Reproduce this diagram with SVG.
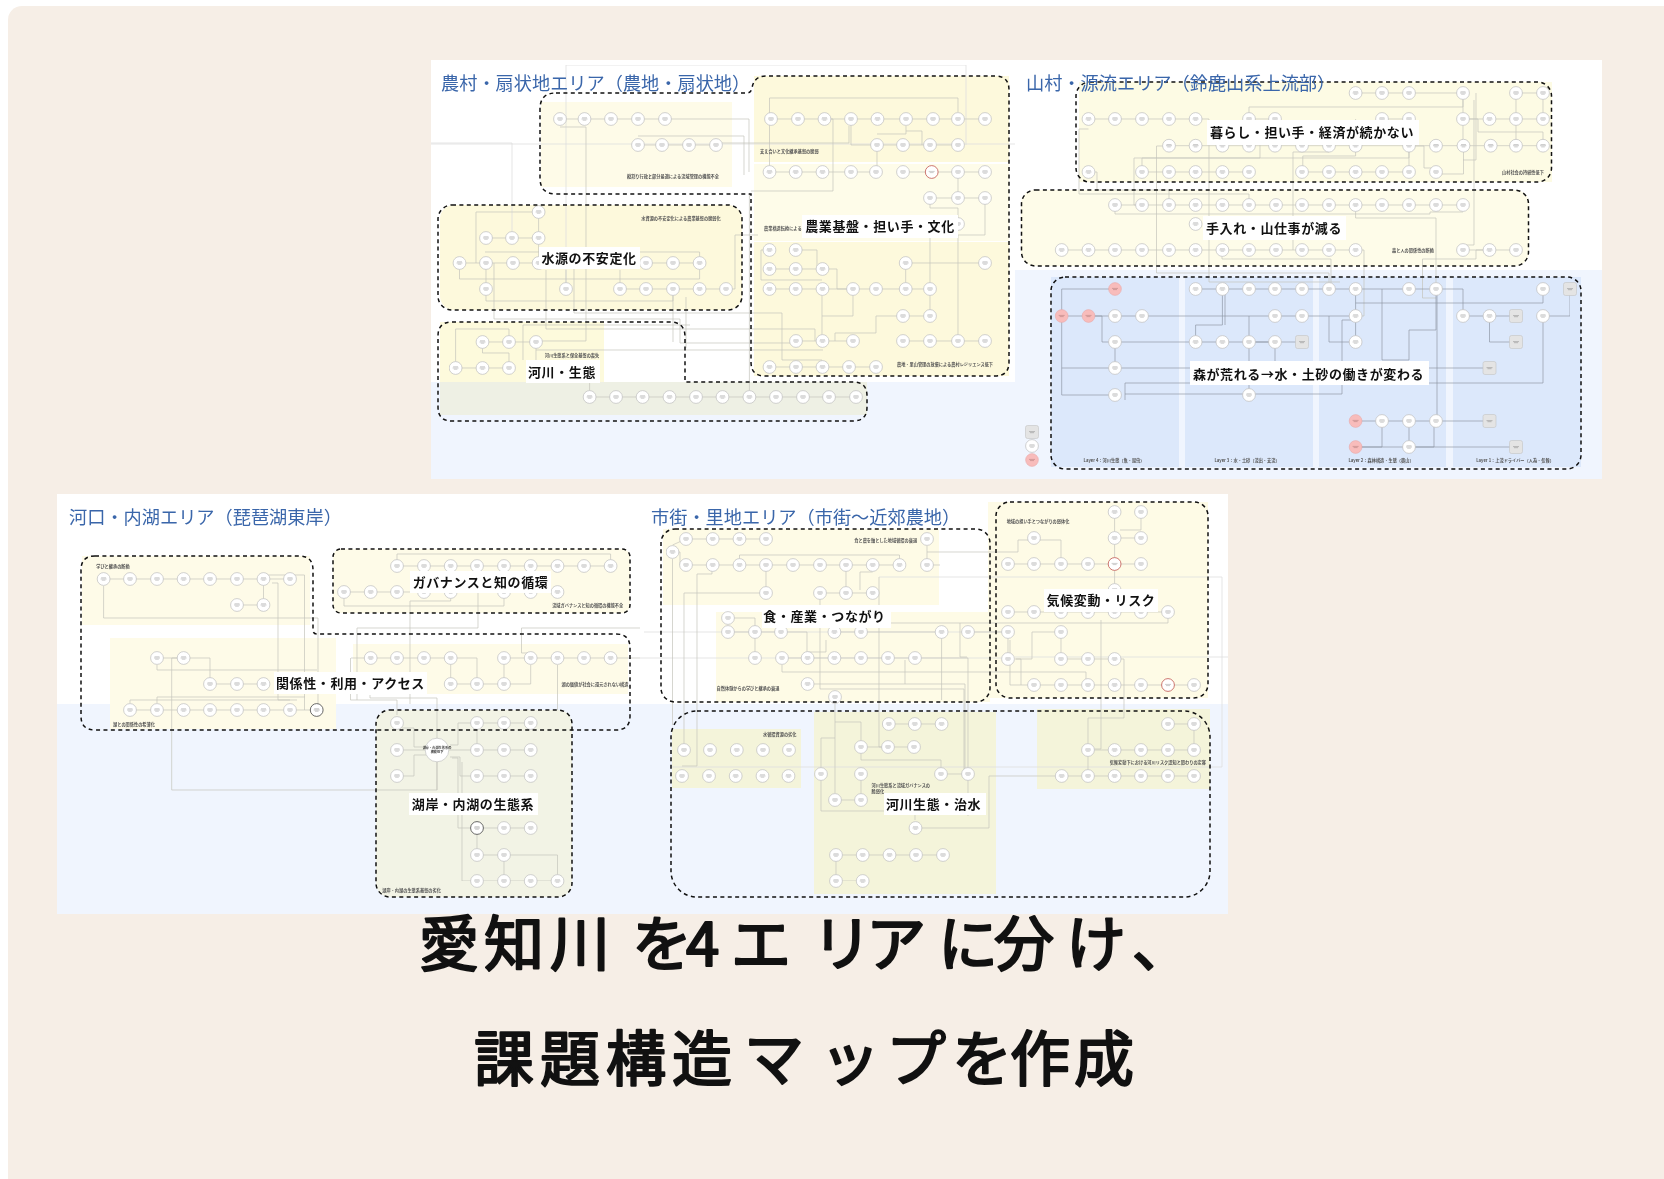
<svg xmlns="http://www.w3.org/2000/svg" width="1664" height="1179" viewBox="0 0 1664 1179">
<style>
text{font-family:"Noto Sans CJK JP","Noto Sans CJK SC",sans-serif}
.t{font-size:18.2px;fill:#3a66aa}
.s{font-size:4.2px;font-weight:700;fill:#555}
.b{font-size:13px;font-weight:700;letter-spacing:.6px;text-anchor:middle;fill:#111}
.h{font-size:60px;fill:#111;stroke:#111;stroke-width:2.2px;stroke-linejoin:round}
.d{fill:none;stroke:#111;stroke-width:1.5;stroke-dasharray:4 3.4}
.l{fill:none;stroke:#c4c4bc;stroke-width:.7}
.m{fill:none;stroke:#8f98a6;stroke-width:.7}
.o{fill:none;stroke:#dedede;stroke-width:.8}
.w{fill:#fff}
</style>
<defs>
<filter id="soft" x="0" y="0" width="100%" height="100%"><feGaussianBlur stdDeviation=".35"/></filter>
<g id="c"><circle r="6.4" fill="#fff" stroke="#bdbdbd" stroke-width=".7"/><path d="M-2.5-1.2H2.5M-3 0H3M-1.8 1.2H1.8" stroke="#9c9c9c" stroke-width=".5"/></g>
<g id="r"><circle r="6.4" fill="#fff" stroke="#c0544c" stroke-width=".8"/><path d="M-3-.6H3M-2 .6H2" stroke="#9c9c9c" stroke-width=".5"/></g>
<g id="k"><circle r="6.4" fill="#fff" stroke="#444" stroke-width=".8"/><path d="M-2.5-1.2H2.5M-3 0H3M-1.8 1.2H1.8" stroke="#888" stroke-width=".5"/></g>
<g id="p"><circle r="6.4" fill="#f8bcbb" stroke="#e5a5a5" stroke-width=".5"/><path d="M-3-.6H3M-2 .6H2" stroke="#a77" stroke-width=".5"/></g>
<g id="g"><rect x="-6.5" y="-6.5" width="13" height="13" rx="2" fill="#e4e4e4" stroke="#c4c4c4" stroke-width=".6"/><path d="M-3-.4H3M-2 .7H2" stroke="#888" stroke-width=".5"/></g>
</defs>
<rect width="1664" height="1179" fill="#fff"/>
<rect x="8" y="6" width="1720" height="1240" rx="14" fill="#f6eee6"/>

<g id="panels">
<rect x="431" y="60" width="1171" height="419" fill="#f0f5fe"/>
<rect x="431" y="60" width="584" height="322" fill="#fff"/>
<rect x="1015" y="60" width="587" height="210" fill="#fff"/>
<rect x="541" y="102" width="191" height="85" fill="#fefbe8"/>
<rect x="754" y="76" width="255" height="86" fill="#fdf9dc"/>
<rect x="754" y="164" width="255" height="77" fill="#fefce9"/>
<rect x="754" y="242" width="255" height="134" fill="#fdf9dc"/>
<rect x="440" y="205" width="302" height="105" rx="14" fill="#fdf9dc"/>
<rect x="440" y="322" width="164" height="60" fill="#fdfadc"/>
<rect x="440" y="382" width="427" height="33" fill="#eef0e4"/>
<rect x="1079" y="82" width="473" height="100" fill="#fdfbe4"/>
<rect x="1021" y="190" width="508" height="76" rx="14" fill="#fefce9"/>
<rect x="1051" y="277" width="128" height="190" fill="#dce8fb"/>
<rect x="1185" y="277" width="128" height="190" fill="#dce8fb"/>
<rect x="1319" y="277" width="127" height="190" fill="#dce8fb"/>
<rect x="1453" y="277" width="128" height="190" fill="#dce8fb"/>
<rect x="57" y="494" width="1171" height="420" fill="#f0f5fe"/>
<rect x="57" y="494" width="1171" height="210" fill="#fff"/>
<rect x="82" y="556" width="228" height="69" fill="#fefbe8"/>
<rect x="110" y="638" width="226" height="91" fill="#fefbe8"/>
<rect x="353" y="644" width="275" height="50" fill="#fefbe8"/>
<rect x="333" y="549" width="297" height="64" rx="8" fill="#fefbe8"/>
<rect x="376" y="710" width="196" height="187" rx="14" fill="#f2f3e5"/>
<rect x="663" y="529" width="276" height="76" fill="#fefbe6"/>
<rect x="716" y="612" width="274" height="90" fill="#fefbe6"/>
<rect x="988" y="502" width="220" height="196" fill="#fefbe6"/>
<rect x="672" y="729" width="129" height="59" fill="#f4f4da"/>
<rect x="814" y="712" width="182" height="182" fill="#f4f4da"/>
<rect x="1037" y="709" width="173" height="80" fill="#f4f4da"/>
</g>

<g id="connectors" filter="url(#soft)">
<path class="o" d="M566 65H966V145M566 65V289M431 143H512V238M431 144H1015M640 658H1008M672 767H1222V577H879M1015 657H1228M644 632H1008"/>
<path class="l" d="M560 119H665H749V172M638 145H716M716 143H849V126M638 136H744V175M560 127H586V341H536"/>
<path class="l" d="M771 119H985M851 119V145H958M877 134H906V126M877 145V172M769.5 98H958V112M769.5 98V172M824 119H833V191H751M770 172H876M903 172H985M958 172V198M930 198H985M906 131H922V145M930 198V208H958V224M985 198V235H930V289M958 235V341"/>
<path class="l" d="M769.5 250H761V280H822M796 250H817V269M769.5 269H822H837V289H853M770 289H930M822 289V341M853 289V316H822M905.7 263H985M905.7 263V289M903 316H930M903 316H876V333H835V341M930 289V316M796 341H853M903 341H985M770 367H876"/>
<path class="l" d="M726 289H735V235H758M574 263V313H782V360H822V367M494 263V319H680V343H796M546 270V329H815V341M536 350H823M523 360V325H690M749.4 397V194"/>
<path class="l" d="M459.5 263H699.6M538.6 212V263M486 238H538.6M476 212H538.6M476 212V263M486 263V289M459.5 263V279H699.6V263M486 289V301H673V289M620 289H726M620 289V270M566 289V270M485 252H699.6V263M673 289V342M686 297V348"/>
<path class="l" d="M455.6 368H509M455.6 368V329H509V342M482.5 342H536M482.5 342V353H509V368M536 342V368M589.6 397H856M589.6 397V383"/>
<path class="l" d="M1088.5 119H1195.6M1249 119H1275M1382 119H1409M1463 119H1543M1355.6 93H1409M1516 93H1543M1169 145.7H1543M1142 172H1249M1302 172H1409M1463 93V146M1516 93V146M1543 93V119M1409 93H1463M1249 119V107H1463V93M1355.6 119V140M1409 119V146M1463 119H1478V132H1543V146M1476 93V160H1463"/>
<path class="l" d="M1088.5 129H1079V194H1249V205M1260 133V158H1134V205H1142M1169 146H1156.5V273H1329V283M1195.6 119H1209V282H1340M1293 250V152H1329V146M1302.8 172V156H1355.6V146M1142 172V158H1409V146M1409 146V172M1409 146H1424V168H1436M1463.5 146V174H1436M1088.5 172H1097V190H1169V205"/>
<path class="l" d="M1115 205H1463M1115 205V214H1430V212H1463M1355.6 205V218H1436V289M1061.7 250H1355.6M1463 250H1516M1355.6 250H1364V316H1355.6M1222 250V259H1331V283M1474 100V245H1463M1489.5 250H1476V259H1422.5V298H1436"/>
<path class="m" d="M1195.6 289H1436M1115 289H1061.7V395H1115M1061.7 368H1115M1061.7 316H1275H1355.6M1092 316H1102V342H1115H1275M1115 342V368M1222.4 289V325H1195.6V342M1225 289V325M1249 316V395M1249 342H1302M1275 342V368M1355.6 289V342M1329 316V342H1355.6M1355.6 320H1342V394H1125M1125 400V383H1543V316H1570V289M1355.6 303H1543V289M1382 289V360H1409V330H1436V289M1436 289H1463V316H1516M1489.5 316V342H1516M1115 368H1489.5M1355.6 421H1489.5M1382 421V447H1355.6M1409 421V447M1437 421V289M1355.6 447H1516M1409 447H1434V421"/>
<path class="l" d="M103.6 579H290M237 605H263.5M263.5 579V605M103.6 586V618H318V704M263 575H304.5V710M272 583H278V700H290M157 658H183.6H210V684M157 665V670H317M210 684H263.5M130 710H316.7M130 703V700H297M157 703V697H305M183.6 658H171.7V790H437V762"/>
<path class="l" d="M397 566H610.6M397 566V554H610.6V560M344 592H450.7M504 592H557.5M344 592V606H504V592M478 590V628H357V700M450.7 598V601H410V704M370.7 658H450.7M504 658H640M450.7 658V684M504 658V684M450.7 684H530.7V665M456 658H477V684M521.5 628H640M521.5 628V653H530.7M557.5 665V710M351 658H370M350.5 658V700H397V715M370 695V698H437V738"/>
<path class="l" d="M402 728H414V747H427M447 750H530.7M450 745H458V723H477H530.7M477 723V750M397 750H427M397 776H414V755H427M450 757H460V776H530.7M452 758H458V828H530.7M437 762V790M477 855H557.5V881M504 855V881M477 881H557.5M477 828V855M462 762V881H477"/>
<path class="l" d="M686 539H766M672.5 545L686 539M672.5 552H680V565H899.5M927 546V565H940M739.5 565V555H899.5V565M766 565V593M672.5 559V725M820 593H872.7M846 565V593M860 590V572H872.7M879 577V747H888M927 552H1018V540H1034H1061V564M684 593H766M684 593V750M697 574H712V570M697 574V766H682M820 597V689H964V774M807.6 684H965V774"/>
<path class="l" d="M728 632H781H807V658M755 632V658M728 618H755V626M782 658H915H968V770M782 665V672H1086V685M834 632H941.6M807 652H826V640M941.6 632V700M968 632H1008M960 623V657H967M890 623H1168V615M905 660V684"/>
<path class="l" d="M835 700V793M835 722H861V747M821 738H835M821 738V811H915V820M861 747V760H941V774M861 747H914M888.8 724H941.6M861 774V800H835M941 774H968M968 774V816M836 855H943M836 855V881H862.7M915.5 828H989V776H1194M1088 750H1194M1088 750V776M1194 724V750M1168 724H1194M1101 620V749H1088M1088 745V718H1124V659H1114.6"/>
<path class="l" d="M1114.6 512V590M1114.6 538H1141M1141 512V530H1120M1008 564H1141M1008 612H1168M1008 632V659M1010 640V685H1034M1016 659H1021V685M1015 659H1032V632H1061V659H1114.6M1034 685H1194"/>
</g>

<g id="area-nouson" filter="url(#soft)">
<g id="cl-tatewari">
<use href="#c" x="560" y="119"/><use href="#c" x="584.5" y="119"/><use href="#c" x="611" y="119"/><use href="#c" x="638" y="119"/><use href="#c" x="665" y="119"/>
<use href="#c" x="638" y="145"/><use href="#c" x="662" y="145"/><use href="#c" x="689" y="145"/><use href="#c" x="716" y="145"/>
<text class="s" x="673" y="177.5" text-anchor="middle">縦割り行政と部分最適による流域管理の機能不全</text>
</g>
<g id="cl-nougyou">
<use href="#c" x="771" y="119"/><use href="#c" x="798" y="119"/><use href="#c" x="824.5" y="119"/><use href="#c" x="851" y="119"/><use href="#c" x="877.5" y="119"/><use href="#c" x="906" y="119"/><use href="#c" x="933" y="119"/><use href="#c" x="958" y="119"/><use href="#c" x="985" y="119"/>
<use href="#c" x="877" y="145"/><use href="#c" x="903" y="145"/><use href="#c" x="930" y="145"/><use href="#c" x="958" y="145"/>
<use href="#c" x="769.5" y="172"/><use href="#c" x="795.7" y="172"/><use href="#c" x="822.5" y="172"/><use href="#c" x="851" y="172"/><use href="#c" x="876" y="172"/><use href="#c" x="903" y="172"/><use href="#r" x="931.7" y="172"/><use href="#c" x="958" y="172"/><use href="#c" x="985" y="172"/>
<use href="#c" x="930" y="198"/><use href="#c" x="958" y="198"/><use href="#c" x="985" y="198"/><use href="#c" x="958" y="224"/>
<use href="#c" x="769.5" y="250"/><use href="#c" x="795.7" y="250"/><use href="#c" x="769.5" y="269"/><use href="#c" x="795.7" y="269"/><use href="#c" x="822.5" y="269"/><use href="#c" x="905.7" y="263"/><use href="#c" x="985" y="263"/>
<use href="#c" x="769.5" y="289"/><use href="#c" x="795.7" y="289"/><use href="#c" x="822.5" y="289"/><use href="#c" x="853" y="289"/><use href="#c" x="876" y="289"/><use href="#c" x="905.7" y="289"/><use href="#c" x="930" y="289"/>
<use href="#c" x="903" y="316"/><use href="#c" x="930" y="316"/>
<use href="#c" x="796" y="341"/><use href="#c" x="822.5" y="341"/><use href="#c" x="853" y="341"/><use href="#c" x="903" y="341"/><use href="#c" x="930" y="341"/><use href="#c" x="958" y="341"/><use href="#c" x="985" y="341"/>
<use href="#c" x="769.5" y="367"/><use href="#c" x="796" y="367"/><use href="#c" x="822.5" y="367"/><use href="#c" x="849" y="367"/><use href="#c" x="876" y="367"/>
<text class="s" x="760" y="153">支え合いと文化継承基盤の脆弱</text>
<text class="s" x="764" y="230">農業構造転換による</text>
<text class="s" x="945" y="365.5" text-anchor="middle">農地・里山管理の放棄による農村レジリエンス低下</text>
</g>
<g id="cl-suigen">
<use href="#c" x="538.6" y="212"/><use href="#c" x="486" y="238"/><use href="#c" x="512" y="238"/><use href="#c" x="538.6" y="238"/>
<use href="#c" x="459.5" y="263"/><use href="#c" x="486" y="263"/><use href="#c" x="513" y="263"/><use href="#c" x="538.6" y="263"/><use href="#c" x="646" y="263"/><use href="#c" x="673" y="263"/><use href="#c" x="699.6" y="263"/>
<use href="#c" x="486" y="289"/><use href="#c" x="566" y="289"/><use href="#c" x="620" y="289"/><use href="#c" x="646" y="289"/><use href="#c" x="673" y="289"/><use href="#c" x="699.6" y="289"/><use href="#c" x="726" y="289"/>
<text class="s" x="681" y="219.5" text-anchor="middle">水資源の不安定化による農業基盤の脆弱化</text>
</g>
<g id="cl-kasen">
<use href="#c" x="482.5" y="342"/><use href="#c" x="509" y="342"/><use href="#c" x="536" y="342"/><use href="#c" x="455.6" y="368"/><use href="#c" x="482.5" y="368"/><use href="#c" x="509" y="368"/><use href="#c" x="536" y="368"/>
<use href="#c" x="589.6" y="397"/><use href="#c" x="616" y="397"/><use href="#c" x="642.6" y="397"/><use href="#c" x="669.5" y="397"/><use href="#c" x="696" y="397"/><use href="#c" x="722.5" y="397"/><use href="#c" x="749.4" y="397"/><use href="#c" x="776" y="397"/><use href="#c" x="803" y="397"/><use href="#c" x="829" y="397"/><use href="#c" x="856" y="397"/>
<text class="s" x="572" y="356.5" text-anchor="middle">河川生態系と保全基盤の喪失</text>
</g>
</g>

<g id="area-sanson" filter="url(#soft)">
<g id="cl-kurashi">
<use href="#c" x="1355.6" y="93"/><use href="#c" x="1382" y="93"/><use href="#c" x="1409" y="93"/><use href="#c" x="1463" y="93"/><use href="#c" x="1516" y="93"/><use href="#c" x="1543" y="93"/>
<use href="#c" x="1088.5" y="119"/><use href="#c" x="1115" y="119"/><use href="#c" x="1142" y="119"/><use href="#c" x="1169" y="119"/><use href="#c" x="1195.6" y="119"/><use href="#c" x="1249" y="119"/><use href="#c" x="1275" y="119"/><use href="#c" x="1382" y="119"/><use href="#c" x="1409" y="119"/><use href="#c" x="1463" y="119"/><use href="#c" x="1489.5" y="119"/><use href="#c" x="1516" y="119"/><use href="#c" x="1543" y="119"/>
<use href="#c" x="1169" y="145.7"/><use href="#c" x="1195.6" y="145.7"/><use href="#c" x="1222.4" y="145.7"/><use href="#c" x="1249" y="145.7"/><use href="#c" x="1275" y="145.7"/><use href="#c" x="1302" y="145.7"/><use href="#c" x="1329" y="145.7"/><use href="#c" x="1355.6" y="145.7"/><use href="#c" x="1409" y="145.7"/><use href="#c" x="1436" y="145.7"/><use href="#c" x="1463.5" y="145.7"/><use href="#c" x="1490.7" y="145.7"/><use href="#c" x="1516" y="145.7"/><use href="#c" x="1543" y="145.7"/>
<use href="#c" x="1088.5" y="172"/><use href="#c" x="1142" y="172"/><use href="#c" x="1169" y="172"/><use href="#c" x="1195.6" y="172"/><use href="#c" x="1222.4" y="172"/><use href="#c" x="1249" y="172"/><use href="#c" x="1302" y="172"/><use href="#c" x="1329" y="172"/><use href="#c" x="1355.6" y="172"/><use href="#c" x="1382" y="172"/><use href="#c" x="1409" y="172"/><use href="#c" x="1436" y="172"/>
<text class="s" x="1523" y="173.5" text-anchor="middle">山村社会の持続性低下</text>
</g>
<g id="cl-teire">
<use href="#c" x="1115" y="205"/><use href="#c" x="1142" y="205"/><use href="#c" x="1169" y="205"/><use href="#c" x="1195.6" y="205"/><use href="#c" x="1222.4" y="205"/><use href="#c" x="1249" y="205"/><use href="#c" x="1276" y="205"/><use href="#c" x="1302" y="205"/><use href="#c" x="1329" y="205"/><use href="#c" x="1355.6" y="205"/><use href="#c" x="1382" y="205"/><use href="#c" x="1409" y="205"/><use href="#c" x="1436" y="205"/><use href="#c" x="1463" y="205"/>
<use href="#c" x="1195.6" y="224"/>
<use href="#c" x="1061.7" y="250"/><use href="#c" x="1088.5" y="250"/><use href="#c" x="1115" y="250"/><use href="#c" x="1142" y="250"/><use href="#c" x="1169" y="250"/><use href="#c" x="1195.6" y="250"/><use href="#c" x="1222.4" y="250"/><use href="#c" x="1249" y="250"/><use href="#c" x="1276" y="250"/><use href="#c" x="1302" y="250"/><use href="#c" x="1329" y="250"/><use href="#c" x="1355.6" y="250"/><use href="#c" x="1463" y="250"/><use href="#c" x="1489.5" y="250"/><use href="#c" x="1516" y="250"/>
<text class="s" x="1413" y="251.5" text-anchor="middle">森と人の関係性の断絶</text>
</g>
<g id="cl-mori">
<use href="#p" x="1115" y="289"/><use href="#c" x="1195.6" y="289"/><use href="#c" x="1222.4" y="289"/><use href="#c" x="1249" y="289"/><use href="#c" x="1275" y="289"/><use href="#c" x="1302" y="289"/><use href="#c" x="1329" y="289"/><use href="#c" x="1355.6" y="289"/><use href="#c" x="1409" y="289"/><use href="#c" x="1436" y="289"/><use href="#c" x="1543" y="289"/><use href="#g" x="1570" y="289"/>
<use href="#p" x="1061.7" y="316"/><use href="#p" x="1088.5" y="316"/><use href="#c" x="1115" y="316"/><use href="#c" x="1142" y="316"/><use href="#c" x="1275" y="316"/><use href="#c" x="1302" y="316"/><use href="#c" x="1355.6" y="316"/><use href="#c" x="1463" y="316"/><use href="#c" x="1489.5" y="316"/><use href="#g" x="1516" y="316"/><use href="#c" x="1543" y="316"/>
<use href="#c" x="1115" y="342"/><use href="#c" x="1195.6" y="342"/><use href="#c" x="1222.4" y="342"/><use href="#c" x="1249" y="342"/><use href="#c" x="1275" y="342"/><use href="#g" x="1302" y="342"/><use href="#c" x="1355.6" y="342"/><use href="#g" x="1516" y="342"/>
<use href="#c" x="1115" y="368"/><use href="#g" x="1489.5" y="368"/><use href="#c" x="1115" y="395"/><use href="#c" x="1249" y="395"/>
<use href="#p" x="1355.6" y="421"/><use href="#c" x="1382" y="421"/><use href="#c" x="1409" y="421"/><use href="#c" x="1436" y="421"/><use href="#g" x="1489.5" y="421"/>
<use href="#p" x="1355.6" y="447"/><use href="#c" x="1409" y="447"/><use href="#g" x="1516" y="447"/>
<text class="s" x="1114" y="462" text-anchor="middle">Layer 4：河川生態（魚・昆虫）</text>
<text class="s" x="1247" y="462" text-anchor="middle">Layer 3：水・土砂（流出・支流）</text>
<text class="s" x="1381" y="462" text-anchor="middle">Layer 2：森林構造・生態（奥山）</text>
<text class="s" x="1515" y="462" text-anchor="middle">Layer 1：上流ドライバー（人為・気候）</text>
</g>
<g id="legend"><use href="#g" x="1032" y="432"/><use href="#c" x="1032" y="446"/><use href="#p" x="1032" y="460"/></g>
</g>

<g id="area-kako" filter="url(#soft)">
<g id="cl-kankei">
<use href="#c" x="103.6" y="579"/><use href="#c" x="130" y="579"/><use href="#c" x="157" y="579"/><use href="#c" x="183.6" y="579"/><use href="#c" x="210" y="579"/><use href="#c" x="237" y="579"/><use href="#c" x="263.5" y="579"/><use href="#c" x="290" y="579"/><use href="#c" x="237" y="605"/><use href="#c" x="263.5" y="605"/>
<use href="#c" x="157" y="658"/><use href="#c" x="183.6" y="658"/><use href="#c" x="370.7" y="658"/><use href="#c" x="397" y="658"/><use href="#c" x="424" y="658"/><use href="#c" x="450.7" y="658"/><use href="#c" x="504" y="658"/><use href="#c" x="530.7" y="658"/><use href="#c" x="557.5" y="658"/><use href="#c" x="584" y="658"/><use href="#c" x="610.6" y="658"/>
<use href="#c" x="210" y="684"/><use href="#c" x="237" y="684"/><use href="#c" x="263.5" y="684"/><use href="#c" x="450.7" y="684"/><use href="#c" x="477" y="684"/><use href="#c" x="504" y="684"/>
<use href="#c" x="130" y="710"/><use href="#c" x="157" y="710"/><use href="#c" x="183.6" y="710"/><use href="#c" x="210" y="710"/><use href="#c" x="237" y="710"/><use href="#c" x="263.5" y="710"/><use href="#c" x="290" y="710"/><use href="#k" x="316.7" y="710"/>
<text class="s" x="113" y="567.5" text-anchor="middle">学びと継承の断絶</text>
<text class="s" x="134" y="725.5" text-anchor="middle">湖との関係性の希薄化</text>
<text class="s" x="595" y="685.5" text-anchor="middle">湖の価値が社会に還元されない構造</text>
</g>
<g id="cl-gov">
<use href="#c" x="397" y="566"/><use href="#c" x="424" y="566"/><use href="#c" x="450.7" y="566"/><use href="#c" x="477" y="566"/><use href="#c" x="504" y="566"/><use href="#c" x="530.7" y="566"/><use href="#c" x="557.5" y="566"/><use href="#c" x="584" y="566"/><use href="#c" x="610.6" y="566"/>
<use href="#c" x="344" y="592"/><use href="#c" x="370.7" y="592"/><use href="#c" x="397" y="592"/><use href="#c" x="424" y="592"/><use href="#c" x="450.7" y="592"/><use href="#c" x="504" y="592"/><use href="#c" x="530.7" y="592"/><use href="#c" x="557.5" y="592"/>
<text class="s" x="587.7" y="606.5" text-anchor="middle">流域ガバナンスと知の循環の機能不全</text>
</g>
<g id="cl-kogan">
<use href="#c" x="397" y="723"/><use href="#c" x="477" y="723"/><use href="#c" x="504" y="723"/><use href="#c" x="530.7" y="723"/>
<use href="#c" x="397" y="750"/><use href="#c" x="477" y="750"/><use href="#c" x="504" y="750"/><use href="#c" x="530.7" y="750"/>
<use href="#c" x="397" y="776"/><use href="#c" x="477" y="776"/><use href="#c" x="504" y="776"/><use href="#c" x="530.7" y="776"/>
<use href="#k" x="477" y="828"/><use href="#c" x="504" y="828"/><use href="#c" x="530.7" y="828"/><use href="#c" x="477" y="855"/><use href="#c" x="504" y="855"/>
<use href="#c" x="477" y="881"/><use href="#c" x="504" y="881"/><use href="#c" x="530.7" y="881"/><use href="#c" x="557.5" y="881"/>
<g id="core"><circle cx="437" cy="750" r="11.8" fill="#fff" stroke="#bbb" stroke-width=".6"/><text x="437" y="748.5" text-anchor="middle" font-size="3.2" font-weight="700" fill="#333">湖岸・内湖生態系の</text><text x="437" y="752.5" text-anchor="middle" font-size="3.2" font-weight="700" fill="#333">機能低下</text></g>
<text class="s" x="411.6" y="891.5" text-anchor="middle">湖岸・内湖の生態系基盤の劣化</text>
</g>
</g>

<g id="area-shigai" filter="url(#soft)">
<g id="cl-shoku">
<use href="#c" x="686" y="539"/><use href="#c" x="712.7" y="539"/><use href="#c" x="739.5" y="539"/><use href="#c" x="766" y="539"/><use href="#c" x="927" y="539"/><use href="#c" x="672.5" y="552"/>
<use href="#c" x="686" y="565"/><use href="#c" x="712.7" y="565"/><use href="#c" x="739.5" y="565"/><use href="#c" x="766" y="565"/><use href="#c" x="793" y="565"/><use href="#c" x="820" y="565"/><use href="#c" x="846" y="565"/><use href="#c" x="872.7" y="565"/><use href="#c" x="899.5" y="565"/><use href="#c" x="927" y="565"/>
<use href="#c" x="766" y="593"/><use href="#c" x="820" y="593"/><use href="#c" x="846" y="593"/><use href="#c" x="872.7" y="593"/><use href="#c" x="728" y="618"/>
<use href="#c" x="728" y="632"/><use href="#c" x="755" y="632"/><use href="#c" x="781" y="632"/><use href="#c" x="834.4" y="632"/><use href="#c" x="861" y="632"/><use href="#c" x="941.6" y="632"/><use href="#c" x="968" y="632"/>
<use href="#c" x="755" y="658"/><use href="#c" x="782" y="658"/><use href="#c" x="807.6" y="658"/><use href="#c" x="834.4" y="658"/><use href="#c" x="861" y="658"/><use href="#c" x="888" y="658"/><use href="#c" x="915" y="658"/>
<use href="#c" x="807.6" y="684"/><use href="#c" x="835" y="697"/>
<text class="s" x="885.7" y="541.5" text-anchor="middle">食と農を軸とした地域循環の衰退</text>
<text class="s" x="748" y="689.5" text-anchor="middle">自然体験からの学びと継承の衰退</text>
</g>
<g id="cl-kikou">
<use href="#c" x="1114.6" y="512"/><use href="#c" x="1141" y="512"/><use href="#c" x="1034" y="538"/><use href="#c" x="1114.6" y="538"/><use href="#c" x="1141" y="538"/>
<use href="#c" x="1008" y="564"/><use href="#c" x="1034" y="564"/><use href="#c" x="1061" y="564"/><use href="#c" x="1088" y="564"/><use href="#r" x="1114.6" y="564"/><use href="#c" x="1141" y="564"/><use href="#c" x="1114.6" y="590"/>
<use href="#c" x="1008" y="612"/><use href="#c" x="1034" y="612"/><use href="#c" x="1061" y="612"/><use href="#c" x="1088" y="612"/><use href="#c" x="1114.6" y="612"/><use href="#c" x="1141" y="612"/><use href="#c" x="1168" y="612"/>
<use href="#c" x="1008" y="632"/><use href="#c" x="1061" y="632"/><use href="#c" x="1008" y="659"/><use href="#c" x="1061" y="659"/><use href="#c" x="1088" y="659"/><use href="#c" x="1114.6" y="659"/>
<use href="#c" x="1034" y="685"/><use href="#c" x="1061" y="685"/><use href="#c" x="1088" y="685"/><use href="#c" x="1114.6" y="685"/><use href="#c" x="1141" y="685"/><use href="#r" x="1168" y="685"/><use href="#c" x="1194" y="685"/>
<text class="s" x="1038" y="522.5" text-anchor="middle">地域の担い手とつながりの弱体化</text>
</g>
<g id="cl-chisui">
<use href="#c" x="684" y="750"/><use href="#c" x="710" y="750"/><use href="#c" x="736.8" y="750"/><use href="#c" x="763" y="750"/><use href="#c" x="789" y="750"/>
<use href="#c" x="682" y="776"/><use href="#c" x="709" y="776"/><use href="#c" x="735.7" y="776"/><use href="#c" x="762.5" y="776"/><use href="#c" x="788.5" y="776"/>
<use href="#c" x="888.8" y="724"/><use href="#c" x="914.8" y="724"/><use href="#c" x="941.6" y="724"/><use href="#c" x="861" y="747"/><use href="#c" x="888" y="747"/><use href="#c" x="914" y="747"/>
<use href="#c" x="821" y="774"/><use href="#c" x="861" y="774"/><use href="#c" x="941" y="774"/><use href="#c" x="968" y="774"/><use href="#c" x="835" y="800"/><use href="#c" x="861" y="800"/><use href="#c" x="915.5" y="828"/>
<use href="#c" x="836" y="855"/><use href="#c" x="862.7" y="855"/><use href="#c" x="889.5" y="855"/><use href="#c" x="916" y="855"/><use href="#c" x="943" y="855"/><use href="#c" x="836" y="881"/><use href="#c" x="862.7" y="881"/>
<use href="#c" x="1168" y="724"/><use href="#c" x="1194" y="724"/><use href="#c" x="1088" y="750"/><use href="#c" x="1114.6" y="750"/><use href="#c" x="1141" y="750"/><use href="#c" x="1168" y="750"/><use href="#c" x="1194" y="750"/>
<use href="#c" x="1061.7" y="776"/><use href="#c" x="1088" y="776"/><use href="#c" x="1114.6" y="776"/><use href="#c" x="1141" y="776"/><use href="#c" x="1168" y="776"/><use href="#c" x="1194" y="776"/>
<text class="s" x="779.7" y="735.5" text-anchor="middle">水循環資源の劣化</text>
<text class="s" x="871.5" y="787">河川生態系と流域ガバナンスの</text><text class="s" x="871.5" y="793">脆弱化</text>
<text class="s" x="1157.8" y="763.5" text-anchor="middle">気候変動下における河川リスク認知と関わりの変容</text>
</g>
</g>

<g id="regions">
<path class="d" d="M556 93H747Q751 93 752 88Q754 76 766 76H995Q1009 76 1009 90V362Q1009 376 995 376H765Q751 376 751 362V194H556Q540 194 540 178V109Q540 93 556 93Z"/>
<rect class="d" x="438" y="205" width="304" height="105" rx="14"/>
<path class="d" d="M452 322H670Q685 322 685 337V382H853Q867 382 867 396V407Q867 421 853 421H452Q438 421 438 407V336Q438 322 452 322Z"/>
<rect class="d" x="1076" y="82" width="475.5" height="100" rx="14"/>
<rect class="d" x="1021.5" y="190" width="507" height="76" rx="14"/>
<rect class="d" x="1051" y="277" width="530" height="192" rx="14"/>
<path class="d" d="M95 556H299Q313 556 313 570V630Q313 634 317 634H616Q630 634 630 648V716Q630 730 616 730H95Q81 730 81 716V570Q81 556 95 556Z"/>
<rect class="d" x="333" y="549" width="297" height="64" rx="8"/>
<rect class="d" x="376" y="710" width="196" height="187" rx="14"/>
<rect class="d" x="661" y="529" width="329" height="173" rx="14"/>
<rect class="d" x="996" y="502" width="212" height="196" rx="14"/>
<rect class="d" x="671" y="711" width="539" height="186" rx="26"/>
</g>

<g id="titles">
<text class="t" x="441" y="90">農村・扇状地エリア（農地・扇状地）</text>
<text class="t" x="1026" y="90">山村・源流エリア（鈴鹿山系上流部）</text>
<text class="t" x="69" y="524">河口・内湖エリア（琵琶湖東岸）</text>
<text class="t" x="651" y="524">市街・里地エリア（市街〜近郊農地）</text>
</g>

<g id="labels">
<rect class="w" x="802" y="215" width="156" height="23"/><text class="b" x="880" y="231">農業基盤・担い手・文化</text>
<rect class="w" x="539" y="247" width="101" height="22"/><text class="b" x="589" y="263">水源の不安定化</text>
<rect class="w" x="526" y="360" width="74" height="23"/><text class="b" x="562" y="376.5">河川・生態</text>
<rect class="w" x="1207" y="120" width="212" height="25"/><text class="b" x="1312" y="137">暮らし・担い手・経済が続かない</text>
<rect class="w" x="1203" y="216" width="143" height="24"/><text class="b" x="1274" y="232.5">手入れ・山仕事が減る</text>
<rect class="w" x="1190" y="361" width="239" height="24"/><text class="b" x="1308.5" y="378.5">森が荒れる→水・土砂の働きが変わる</text>
<rect class="w" x="274" y="672" width="153" height="22"/><text class="b" x="350.5" y="687.5">関係性・利用・アクセス</text>
<rect class="w" x="410" y="571" width="141" height="22"/><text class="b" x="480.5" y="586.5">ガバナンスと知の循環</text>
<rect class="w" x="409" y="793" width="129" height="22"/><text class="b" x="473" y="809">湖岸・内湖の生態系</text>
<rect class="w" x="762" y="605" width="129" height="23"/><text class="b" x="824.5" y="621">食・産業・つながり</text>
<rect class="w" x="1044" y="589" width="114" height="23"/><text class="b" x="1101" y="605">気候変動・リスク</text>
<rect class="w" x="884" y="793" width="102" height="22"/><text class="b" x="933.5" y="809">河川生態・治水</text>
</g>

<g id="heading">
<text class="h" y="966" x="419 484 550 632 686 731 812 866 938 994 1066 1132">愛知川を4エリアに分け、</text>
<text class="h" y="1081" x="474 540 606 672 744 820 886 952 1010 1074">課題構造マップを作成</text>
</g>
</svg>
